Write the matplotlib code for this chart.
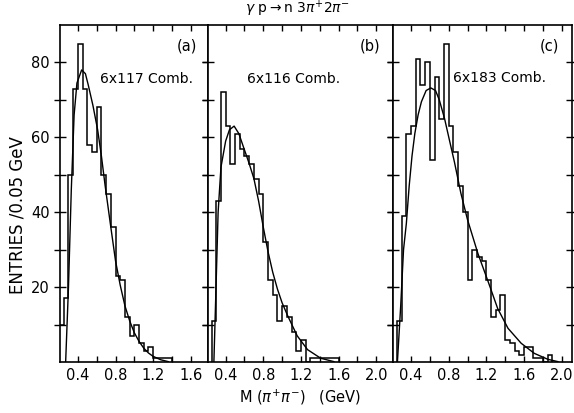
import numpy as np
import matplotlib
matplotlib.use('Agg')
import matplotlib.pyplot as plt

# histogram contents (entries per 0.05 GeV bin), first bin lower edge given
bin_w = 0.05
a_start = 0.20
a_counts = [10, 17, 50, 73, 85, 73, 58, 56, 68, 50, 45, 36, 23, 22, 12, 7, 10, 5,
            3, 4, 1, 1, 1, 1]
b_start = 0.25
b_counts = [11, 43, 72, 63, 53, 61, 57, 55, 53, 49, 45, 32, 22, 18, 11, 15, 12, 8,
            3, 6, 0, 1, 1, 1, 1, 1, 1]
c_start = 0.25
c_counts = [11, 39, 61, 63, 81, 74, 80, 54, 76, 65, 85, 63, 56, 47, 40, 22, 30, 28,
            27, 22, 12, 14, 18, 6, 5, 3, 2, 4, 4, 1, 1, 0, 2]

# smooth curves drawn over the histograms
a_cx = [0.27, 0.30, 0.33, 0.36, 0.39, 0.44, 0.48, 0.51, 0.56, 0.61, 0.65, 0.69, 0.75,
        0.80, 0.85, 0.90, 0.95, 1.00, 1.05, 1.10, 1.15, 1.20, 1.28, 1.36]
a_cy = [0, 20, 46, 66, 74.5, 78, 77, 74, 68.5, 62, 55, 47, 36,
        27, 20.5, 15, 11, 7.8, 5.5, 3.7, 2.4, 1.5, 0.6, 0.1]
b_cx = [0.275, 0.30, 0.32, 0.35, 0.40, 0.44, 0.49, 0.54, 0.595, 0.65, 0.70, 0.75,
        0.80, 0.85, 0.90, 0.95, 1.00, 1.06, 1.16, 1.27, 1.41, 1.55]
b_cy = [0, 22, 40, 52, 59, 62, 63, 61, 57, 53, 49, 43,
        36, 29.5, 24, 19.5, 15.8, 12.3, 7, 3.3, 1, 0.1]
c_cx = [0.255, 0.29, 0.32, 0.35, 0.38, 0.41, 0.44, 0.475, 0.51, 0.56, 0.61, 0.66,
        0.70, 0.756, 0.81, 0.86, 0.93, 1.00, 1.11, 1.22, 1.32, 1.43, 1.57, 1.71,
        1.855, 1.96]
c_cy = [0, 15, 30, 37, 47, 55, 61, 66, 69.5, 72.5, 73.2, 72.5,
        70, 65, 59, 53.5, 45, 38, 29, 21.4, 14.3, 9, 5, 2.3,
        0.7, 0.1]

x_lo = 0.21
x_hi = [1.78, 2.18, 2.11]
letters = ['(a)', '(b)', '(c)']
combs = ['6x117 Comb.', '6x116 Comb.', '6x183 Comb.']
tick_labels = {0.4: '0.4', 0.8: '0.8', 1.2: '1.2', 1.6: '1.6', 2.0: '2.0'}

W, H = 574, 413
fig = plt.figure(figsize=(W / 100, H / 100), dpi=100)
gs = fig.add_gridspec(1, 3, left=60 / W, right=572 / W, bottom=51 / H, top=388 / H,
                      wspace=0, width_ratios=[h - x_lo for h in x_hi])

hists = [(a_start, a_counts), (b_start, b_counts), (c_start, c_counts)]
curves = [(a_cx, a_cy), (b_cx, b_cy), (c_cx, c_cy)]

for i in range(3):
    ax = fig.add_subplot(gs[0, i])
    start, counts = hists[i]
    edges = np.round(start + bin_w * np.arange(len(counts) + 1), 3)
    ax.stairs(counts, edges, color='black', lw=1.1, baseline=0)
    ax.plot(curves[i][0], curves[i][1], color='black', lw=1.0)

    ax.set_xlim(x_lo, x_hi[i])
    ax.set_ylim(0, 90)

    xt = np.round(np.arange(0.4, x_hi[i], 0.2), 2)
    ax.set_xticks(xt)
    ax.set_xticklabels([tick_labels.get(v, '') for v in xt], fontsize=10.5)
    ax.tick_params(axis='x', direction='in', top=True, length=4, width=1, pad=4)

    yt = list(range(10, 90, 10))
    ax.set_yticks(yt)
    if i == 0:
        ax.set_yticklabels([str(v) if v % 20 == 0 else '' for v in yt], fontsize=10.5)
    else:
        ax.set_yticklabels([])
    ax.tick_params(axis='y', direction='inout', left=True, right=True, length=8, width=1)

    for s in ax.spines.values():
        s.set_linewidth(1.2)

    ax.text(0.93, 0.96, letters[i], transform=ax.transAxes, ha='right', va='top',
            fontsize=10.5)

fig.text(100 / W, 1 - 79 / H, combs[0], fontsize=10, va='center', ha='left')
fig.text(247 / W, 1 - 79 / H, combs[1], fontsize=10, va='center', ha='left')
fig.text(453 / W, 1 - 78 / H, combs[2], fontsize=10, va='center', ha='left')

fig.text(297 / W, 1 - 9 / H, r'$\gamma$ p$\rightarrow$n 3$\pi^{+}$2$\pi^{-}$',
         ha='center', va='center', fontsize=10)
fig.text(300 / W, 1 - 397 / H, r'M ($\pi^{+}\pi^{-}$)   (GeV)', ha='center',
         va='center', fontsize=10.5)
fig.text(18 / W, 1 - 215 / H, 'ENTRIES /0.05 GeV', rotation=90, ha='center',
         va='center', fontsize=12)

fig.savefig('out.png', dpi=100)
